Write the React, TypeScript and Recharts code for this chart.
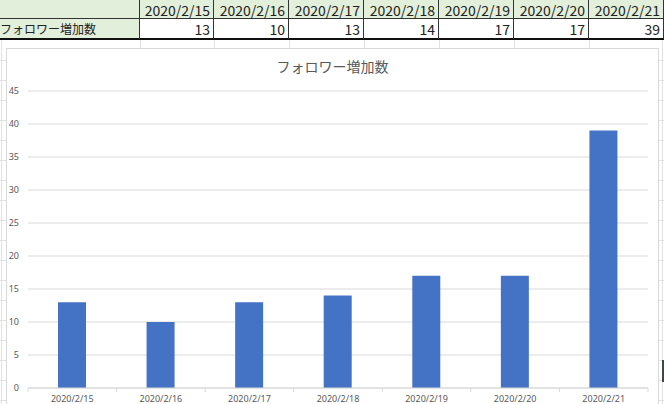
import React from 'react';
import { BarChart, Bar, XAxis, YAxis, CartesianGrid } from 'recharts';

const dates = ['2020/2/15', '2020/2/16', '2020/2/17', '2020/2/18', '2020/2/19', '2020/2/20', '2020/2/21'];
const followerGains = [13, 10, 13, 14, 17, 17, 39];
const yTicks = [0, 5, 10, 15, 20, 25, 30, 35, 40, 45];
const seriesName = 'フォロワー増加数';

const chartData = dates.map((date, i) => ({ date, value: followerGains[i] }));

// excel column edges
const colEdges = [0, 140, 214, 289, 364, 439, 514, 589, 664];
const GRID = '#e1e1e1';
const AXIS = '#d9d9d9';
const TEXT = '#595959';

interface TickProps {
  x?: number;
  y?: number;
  index?: number;
  payload?: { value: string; offset?: number };
}

const XTick: React.FC<TickProps> = ({ x = 0, y = 0, index = 0, payload }) => {
  const half = payload?.offset || 620 / dates.length / 2;
  return (
    <g>
      <line x1={x - half} x2={x - half} y1={y} y2={y + 4} stroke={AXIS} />
      {index === dates.length - 1 && (
        <line x1={x + half} x2={x + half} y1={y} y2={y + 4} stroke={AXIS} />
      )}
      <text x={x} y={y + 8} dy="0.71em" textAnchor="middle" fontSize={9} fill={TEXT}>
        {payload?.value}
      </text>
    </g>
  );
};

const SheetTable: React.FC = () => {
  const cellFont = '"Noto Sans CJK JP", "Noto Sans", sans-serif';
  const cells: React.ReactNode[] = [];
  for (let c = 0; c < colEdges.length - 1; c++) {
    const left = colEdges[c];
    const w = colEdges[c + 1] - left;
    cells.push(
      <div
        key={`h-${c}`}
        style={{
          position: 'absolute', left, top: 0, width: w, height: 19,
          background: '#e2efda', borderRight: '1px solid #333', borderBottom: '1px solid #333',
          boxSizing: 'border-box', textAlign: 'right', paddingRight: 3,
          fontSize: 14, lineHeight: '20px', color: '#222', fontFamily: cellFont,
        }}
      >
        {c > 0 ? dates[c - 1] : ''}
      </div>
    );
    cells.push(
      <div
        key={`v-${c}`}
        style={{
          position: 'absolute', left, top: 19, width: w, height: 21,
          background: c === 0 ? '#e2efda' : '#fff', borderRight: '1px solid #333',
          borderBottom: '2px solid #111', boxSizing: 'border-box',
          textAlign: c === 0 ? 'left' : 'right', paddingRight: 3,
          fontSize: c === 0 ? 12 : 14, lineHeight: '20px', color: '#222', fontFamily: cellFont,
          whiteSpace: 'nowrap', overflow: 'hidden',
        }}
      >
        {c > 0 ? followerGains[c - 1] : seriesName}
      </div>
    );
  }
  return <>{cells}</>;
};

const SheetGrid: React.FC = () => {
  const lines: React.ReactNode[] = [];
  for (let y = 60; y < 404; y += 20) {
    lines.push(
      <div key={`r-${y}`} style={{ position: 'absolute', left: 0, top: y, width: 664, height: 1, background: GRID }} />
    );
  }
  colEdges.slice(1, -1).forEach((x) => {
    lines.push(
      <div key={`c-${x}`} style={{ position: 'absolute', left: x, top: 40, width: 1, height: 364, background: GRID }} />
    );
  });
  lines.push(<div key="c-left" style={{ position: 'absolute', left: 1, top: 40, width: 1, height: 364, background: GRID }} />);
  lines.push(<div key="c-right" style={{ position: 'absolute', left: 662, top: 40, width: 1, height: 364, background: GRID }} />);
  return <>{lines}</>;
};

export default function App() {
  return (
    <div
      style={{
        position: 'fixed', left: 0, top: 0, width: 664, height: 404,
        overflow: 'hidden', background: '#fff',
      }}
    >
      <SheetGrid />
      <SheetTable />
      <div style={{ position: 'absolute', left: 662, top: 360, width: 2, height: 22, background: '#3b4a3f' }} />
      <div
        style={{
          position: 'absolute', left: 6, top: 48, width: 653, height: 356,
          borderTop: '1px solid #d9d9d9', borderLeft: '1px solid #d9d9d9', borderRight: '1px solid #d9d9d9',
          background: '#fff', boxSizing: 'border-box',
        }}
      >
        <div
          style={{
            position: 'absolute', left: 0, top: 7, width: 651, textAlign: 'center',
            fontSize: 14, lineHeight: '20px', color: TEXT,
            fontFamily: '"Noto Sans CJK JP", "Noto Sans", sans-serif',
          }}
        >
          {seriesName}
        </div>
        <BarChart
          width={651}
          height={355}
          data={chartData}
          margin={{ top: 42, right: 10, left: 0, bottom: 0 }}
          style={{ fontFamily: '"Noto Sans", "Noto Sans CJK JP", sans-serif' }}
        >
          <CartesianGrid vertical={false} stroke={AXIS} />
          <XAxis
            dataKey="date"
            height={16}
            axisLine={{ stroke: AXIS }}
            tickLine={false}
            tickSize={0}
            tickMargin={0}
            interval={0}
            tick={<XTick />}
          />
          <YAxis
            width={21}
            domain={[0, 45]}
            ticks={yTicks}
            axisLine={false}
            tickLine={false}
            tickSize={6}
            tickMargin={3}
            tick={{ fontSize: 9, fill: TEXT }}
          />
          <Bar dataKey="value" fill="#4472c4" barSize={28} isAnimationActive={false} />
        </BarChart>
      </div>
    </div>
  );
}
